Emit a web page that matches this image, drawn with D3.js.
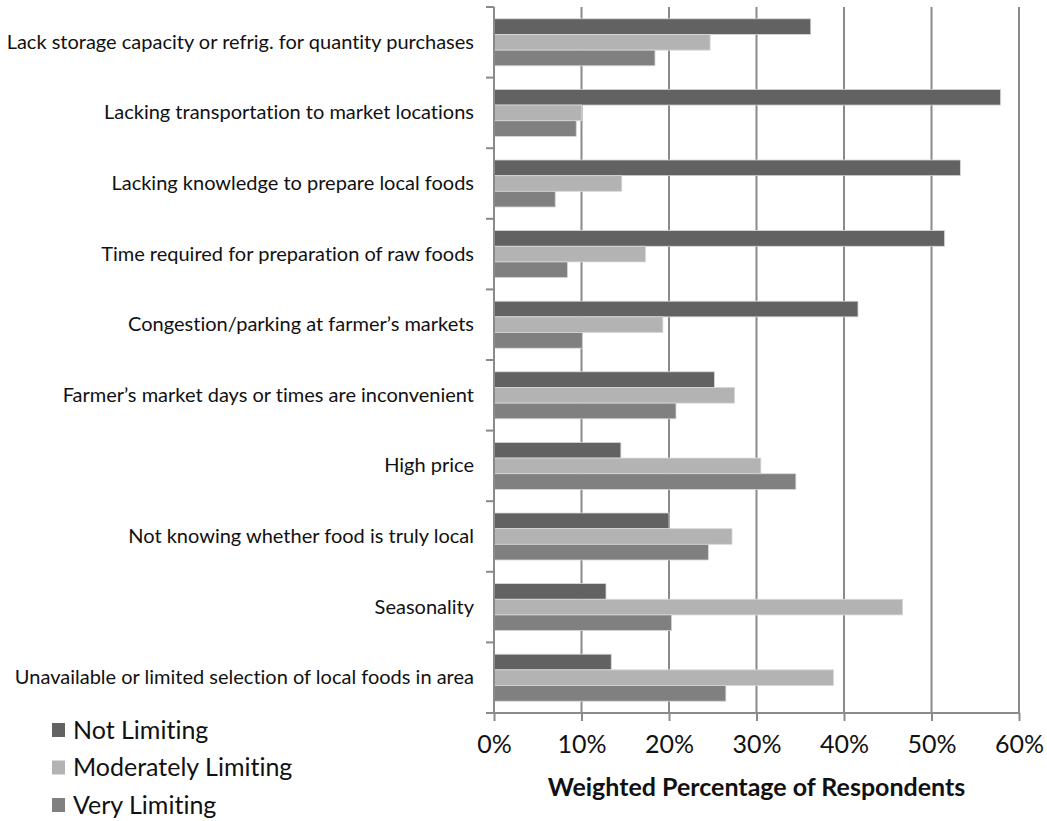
<!DOCTYPE html>
<html lang="en">
<head>
<meta charset="UTF-8" />
<title>Barriers to buying local foods</title>
<script src="https://d3js.org/d3.v7.min.js"></script>
<style>
    * { margin: 0; padding: 0; box-sizing: border-box; }
    body { background: #fff; font-family: Lato, "Open Sans", sans-serif; }
    svg text { fill: #111; font-variant-ligatures: none; }
</style>
</head>
<body>
<svg width="1047" height="821"></svg>
<script>
    // categories, top to bottom
    var categories = [
        "Lack storage capacity or refrig. for quantity purchases",
        "Lacking transportation to market locations",
        "Lacking knowledge to prepare local foods",
        "Time required for preparation of raw foods",
        "Congestion/parking at farmer\u2019s markets",
        "Farmer\u2019s market days or times are inconvenient",
        "High price",
        "Not knowing whether food is truly local",
        "Seasonality",
        "Unavailable or limited selection of local foods in area"
    ];

    var seriesNames = ["Not Limiting", "Moderately Limiting", "Very Limiting"];

    // weighted percentage of respondents (%)
    var notLimiting = [36.2, 57.9, 53.3, 51.5, 41.6, 25.2, 14.5, 20.0, 12.8, 13.4];
    var moderatelyLimiting = [24.7, 10.0, 14.6, 17.3, 19.3, 27.5, 30.5, 27.2, 46.7, 38.8];
    var veryLimiting = [18.4, 9.4, 7.0, 8.4, 10.1, 20.8, 34.5, 24.5, 20.3, 26.5];

    var xTicks = [0, 10, 20, 30, 40, 50, 60];

    var colors = ["#626262", "#b3b3b3", "#808080"];
    var seriesValues = [notLimiting, moderatelyLimiting, veryLimiting];

    var svg = d3.select("svg");

    // plot area (note: "top" is a reserved window property, so use other names)
    var plotLeft = 494, plotRight = 1019, plotTop = 7, plotBottom = 713;

    var xScale = d3.scaleLinear().domain([0, 60]).range([plotLeft, plotRight]);
    var yScale = d3.scaleBand().domain(categories).range([plotTop, plotBottom]);
    var band = yScale.bandwidth();
    var groupH = 47;
    var ySub = d3.scaleBand().domain(seriesNames)
        .range([(band - groupH) / 2, (band + groupH) / 2]);

    // vertical gridlines
    svg.append("g")
        .selectAll("line")
        .data(xTicks.slice(1))
        .enter()
        .append("line")
        .attr("x1", function(d) { return xScale(d); })
        .attr("x2", function(d) { return xScale(d); })
        .attr("y1", plotTop)
        .attr("y2", plotBottom)
        .attr("stroke", "#8a8a8a")
        .attr("stroke-width", 2);

    // bars
    var groups = svg.append("g")
        .selectAll("g")
        .data(categories)
        .enter()
        .append("g")
        .attr("transform", function(d) { return "translate(0," + yScale(d) + ")"; });

    groups.selectAll("rect")
        .data(function(d, i) {
            return seriesNames.map(function(s, j) {
                return { series: s, value: seriesValues[j][i], color: colors[j] };
            });
        })
        .enter()
        .append("rect")
        .attr("x", xScale(0))
        .attr("y", function(d) { return ySub(d.series); })
        .attr("width", function(d) { return xScale(d.value) - xScale(0); })
        .attr("height", ySub.bandwidth())
        .attr("fill", function(d) { return d.color; })
        .attr("stroke", "#d8d8d8")
        .attr("stroke-width", 0.8);

    // x axis
    var xAxis = d3.axisBottom(xScale)
        .tickValues(xTicks)
        .tickSize(8)
        .tickPadding(14)
        .tickFormat(function(d) { return d + "%"; });
    var gx = svg.append("g")
        .attr("transform", "translate(0," + plotBottom + ")")
        .call(xAxis);
    gx.select(".domain").attr("stroke", "#8a8a8a").attr("stroke-width", 2)
        .attr("d", "M" + (plotLeft - 8) + ",0H" + plotRight);
    gx.selectAll(".tick line").attr("stroke", "#8a8a8a").attr("stroke-width", 2);
    gx.selectAll(".tick text")
        .attr("font-family", "Lato, sans-serif")
        .attr("font-size", "25px")
        .attr("fill", "#111");

    // y axis with ticks at band boundaries
    var yAxis = d3.axisLeft(yScale).tickSize(0).tickPadding(20);
    var gy = svg.append("g")
        .attr("transform", "translate(" + plotLeft + ",0)")
        .call(yAxis);
    gy.select(".domain").attr("stroke", "#8a8a8a").attr("stroke-width", 2)
        .attr("d", "M0," + plotTop + "V" + plotBottom);
    gy.selectAll(".tick text")
        .attr("font-family", "Lato, sans-serif")
        .attr("font-size", "20px")
        .attr("fill", "#111");

    var bounds = categories.map(function(c) { return yScale(c); }).concat([plotBottom]);
    gy.selectAll(".bound")
        .data(bounds)
        .enter()
        .append("line")
        .attr("class", "bound")
        .attr("x1", -8)
        .attr("x2", 0)
        .attr("y1", function(d) { return d; })
        .attr("y2", function(d) { return d; })
        .attr("stroke", "#8a8a8a")
        .attr("stroke-width", 2);

    // x axis title
    svg.append("text")
        .attr("x", (plotLeft + plotRight) / 2)
        .attr("y", 796)
        .attr("text-anchor", "middle")
        .attr("font-family", "Lato, sans-serif")
        .attr("font-weight", "bold")
        .attr("font-size", "25px")
        .text("Weighted Percentage of Respondents");

    // legend
    var legend = svg.append("g")
        .selectAll("g")
        .data(seriesNames)
        .enter()
        .append("g")
        .attr("transform", function(d, i) { return "translate(52," + (730 + i * 37.5) + ")"; });

    legend.append("rect")
        .attr("x", 0)
        .attr("y", -7)
        .attr("width", 13)
        .attr("height", 14)
        .attr("fill", function(d, i) { return colors[i]; });

    legend.append("text")
        .attr("x", 21)
        .attr("y", 0)
        .attr("dy", "0.35em")
        .attr("font-family", "Lato, sans-serif")
        .attr("font-size", "25px")
        .text(function(d) { return d; });
</script>
</body>
</html>
